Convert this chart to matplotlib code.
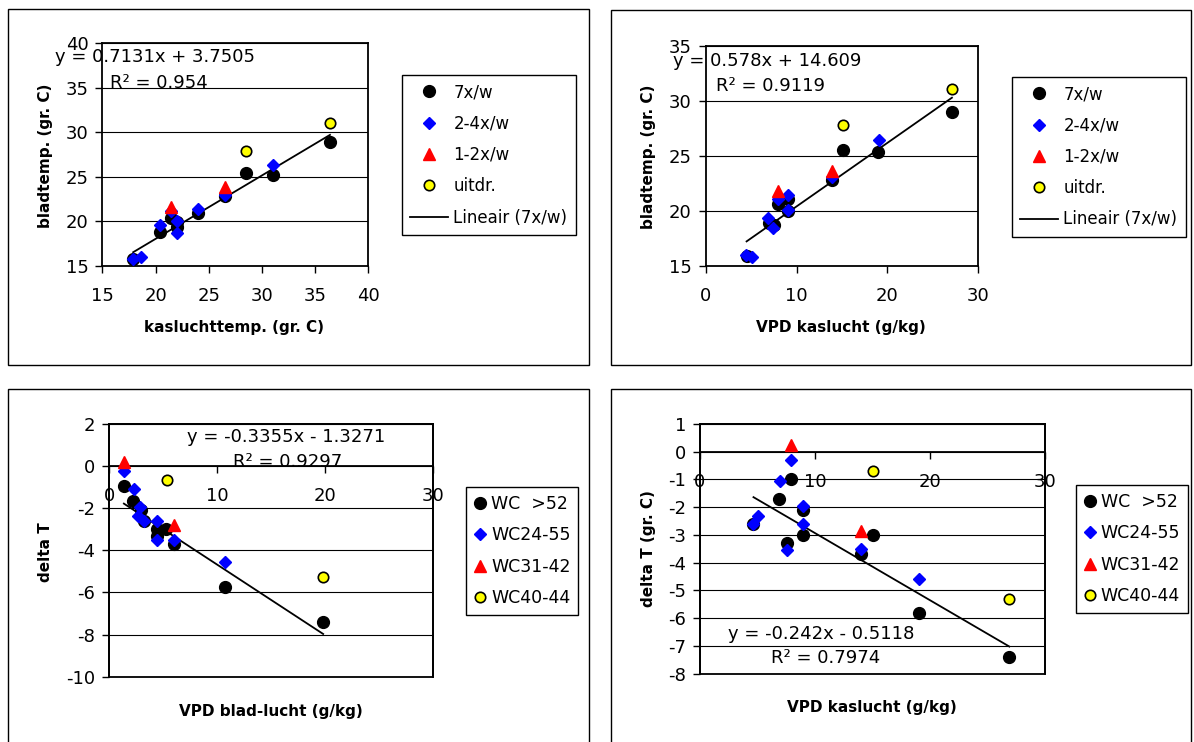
import matplotlib
matplotlib.use('Agg')
import matplotlib.pyplot as plt
from matplotlib.patches import Rectangle
import numpy as np

plt.rcParams['font.family'] = 'DejaVu Sans'
plt.rcParams['axes.unicode_minus'] = False  # plain hyphen like the reference

# ---- data ----
# panel 1: kasluchttemp vs bladtemp
p1_7x_x = [17.9, 20.4, 21.5, 22.0, 22.0, 24.0, 26.5, 28.5, 31.0, 36.4]
p1_7x_y = [15.75, 18.8, 20.4, 19.9, 19.3, 20.9, 22.8, 25.4, 25.2, 28.95]
p1_24_x = [17.9, 18.6, 20.4, 21.5, 22.0, 22.0, 24.0, 26.5, 31.0]
p1_24_y = [15.75, 15.95, 19.6, 21.1, 20.0, 18.65, 21.35, 23.0, 26.35]
p1_12_x = [21.5, 26.5]
p1_12_y = [21.65, 23.8]
p1_ud_x = [28.5, 36.4]
p1_ud_y = [27.9, 31.05]
p1_fit = (0.7131, 3.7505, 0.954)

# panel 2: VPD kaslucht vs bladtemp
p2_7x_x = [4.5, 7.0, 7.5, 8.0, 9.1, 9.1, 13.9, 15.1, 19.0, 27.1]
p2_7x_y = [15.9, 18.85, 18.7, 20.65, 21.05, 19.95, 22.8, 25.5, 25.3, 29.0]
p2_24_x = [4.4, 5.1, 6.9, 7.45, 8.0, 9.1, 9.1, 13.9, 19.1]
p2_24_y = [15.95, 15.75, 19.3, 18.45, 21.1, 21.45, 20.05, 23.05, 26.45]
p2_12_x = [8.0, 13.9]
p2_12_y = [21.75, 23.65]
p2_ud_x = [15.1, 27.1]
p2_ud_y = [27.8, 31.1]
p2_fit = (0.578, 14.609, 0.9119)

# panel 3: VPD blad-lucht vs delta T
p3_52_x = [1.35, 2.2, 2.9, 3.2, 4.4, 4.4, 5.25, 5.95, 10.7, 19.8]
p3_52_y = [-0.95, -1.65, -2.1, -2.6, -3.0, -3.3, -3.0, -3.7, -5.75, -7.4]
p3_24_x = [1.35, 2.3, 2.85, 2.7, 3.2, 4.4, 4.4, 5.95, 10.7]
p3_24_y = [-0.25, -1.1, -1.95, -2.35, -2.6, -2.6, -3.5, -3.5, -4.55]
p3_31_x = [1.35, 5.95]
p3_31_y = [0.2, -2.8]
p3_40_x = [5.3, 19.8]
p3_40_y = [-0.65, -5.25]
p3_fit = (-0.3355, -1.3271, 0.9297)

# panel 4: VPD kaslucht vs delta T
p4_52_x = [4.65, 6.9, 7.55, 7.9, 9.0, 9.0, 14.0, 15.0, 19.0, 26.9]
p4_52_y = [-2.6, -1.7, -3.3, -1.0, -2.1, -3.0, -3.7, -3.0, -5.8, -7.4]
p4_24_x = [4.65, 5.05, 6.95, 7.9, 9.0, 9.0, 7.55, 14.0, 19.0]
p4_24_y = [-2.6, -2.3, -1.05, -0.3, -1.95, -2.6, -3.55, -3.5, -4.6]
p4_31_x = [7.9, 14.0]
p4_31_y = [0.25, -2.85]
p4_40_x = [15.0, 26.9]
p4_40_y = [-0.7, -5.3]
p4_fit = (-0.242, -0.5118, 0.7974)

top_labels = ['7x/w', '2-4x/w', '1-2x/w', 'uitdr.']
bottom_labels = ['WC  >52', 'WC24-55', 'WC31-42', 'WC40-44']

# marker styles for the four series
styles = [
    dict(marker='o', color='black', mec='black', ms=8.5),
    dict(marker='D', color='blue', mec='blue', ms=5.8),
    dict(marker='^', color='red', mec='red', ms=8.5),
    dict(marker='o', color='yellow', mec='black', ms=7.5, mew=1.2),
]

W, H = 1194, 742
fig = plt.figure(figsize=(W / 100, H / 100), dpi=100)


def fx(x):
    return x / W


def fy(y):
    return 1 - y / H


def add_box(x0, y0, x1, y1):
    # outer chart-area border in pixel coords
    fig.add_artist(Rectangle((fx(x0), fy(y1)), (x1 - x0) / W, (y1 - y0) / H,
                             transform=fig.transFigure, fill=False,
                             ec='black', lw=1.0))


def eq_text(fit):
    a, b, r2 = fit
    sign = '+' if b >= 0 else '-'
    return f'y = {a:g}x {sign} {abs(b):g}', f'R² = {r2:g}'


def panel(box, series, labels, fit, xlim, ylim, xstep, ystep,
          xlabel, ylabel, xl_pos, yl_pos, eq_pos, r2_pos, leg_pos,
          trend_in_legend, zero_axis):
    x0, y0, x1, y1 = box
    ax = fig.add_axes([fx(x0), fy(y1), (x1 - x0) / W, (y1 - y0) / H])
    handles = []
    for (xs, ys), st, lab in zip(series, styles, labels):
        h, = ax.plot(xs, ys, linestyle='none', label=lab, zorder=3, **st)
        handles.append(h)

    # trend line of the first series, from the displayed equation
    a, b, r2 = fit
    tx = np.array([min(series[0][0]), max(series[0][0])])
    tl, = ax.plot(tx, a * tx + b, color='black', lw=1.3, zorder=2,
                  label='Lineair (7x/w)')
    if trend_in_legend:
        handles.append(tl)

    ax.set_xlim(*xlim)
    ax.set_ylim(*ylim)
    ax.set_xticks(np.arange(xlim[0], xlim[1] + 0.1, xstep))
    ax.set_yticks(np.arange(ylim[0], ylim[1] + 0.1, ystep))
    ax.yaxis.grid(True, color='black', lw=0.8)
    ax.set_axisbelow(True)
    ax.tick_params(labelsize=13, length=5, width=1, direction='out')
    ax.tick_params(axis='x', pad=10)
    ax.tick_params(axis='y', pad=5)
    for s in ax.spines.values():
        s.set_linewidth(1.3)

    if zero_axis:
        # x axis crosses at y = 0, plot area keeps a full frame
        ax.spines['bottom'].set_position(('data', 0))
        ax.add_patch(Rectangle((0, 0), 1, 1, transform=ax.transAxes,
                               fill=False, ec='black', lw=1.3,
                               clip_on=False, zorder=4))

    # axis titles
    fig.text(fx(xl_pos[0]), fy(xl_pos[1]), xlabel, ha='center', va='center',
             fontsize=11, fontweight='bold')
    fig.text(fx(yl_pos[0]), fy(yl_pos[1]), ylabel, ha='center', va='center',
             fontsize=11, fontweight='bold', rotation=90)

    # regression equation
    eq, rr = eq_text(fit)
    fig.text(fx(eq_pos[0]), fy(eq_pos[1]), eq, ha='left', va='center',
             fontsize=13)
    fig.text(fx(r2_pos[0]), fy(r2_pos[1]), rr, ha='left', va='center',
             fontsize=13)

    # legend
    if trend_in_legend:
        kw = dict(fontsize=12, handlelength=2.3, handletextpad=0.3,
                  borderpad=0.5, labelspacing=0.8)
    else:
        kw = dict(fontsize=12.5, handlelength=0.7, handletextpad=0.3,
                  borderpad=0.45, labelspacing=0.78)
    leg = ax.legend(handles=handles, loc='upper left',
                    bbox_to_anchor=(fx(leg_pos[0]), fy(leg_pos[1])),
                    bbox_transform=fig.transFigure, borderaxespad=0,
                    numpoints=1, fancybox=False, framealpha=1,
                    edgecolor='black', **kw)
    leg.get_frame().set_linewidth(1.0)
    return ax


# outer chart boxes
add_box(8, 9, 589, 365)
add_box(611, 10, 1191, 365)
add_box(8, 389, 589, 760)
add_box(611, 389, 1191, 760)

panel((102.3, 43.3, 368.3, 265.7),
      [(p1_7x_x, p1_7x_y), (p1_24_x, p1_24_y), (p1_12_x, p1_12_y), (p1_ud_x, p1_ud_y)],
      top_labels, p1_fit, (15, 40), (15, 40), 5, 5,
      'kasluchttemp. (gr. C)', 'bladtemp. (gr. C)',
      (234.5, 328), (46, 156), (55, 57), (110, 82.5), (401.7, 75), True, False)

panel((705.7, 45.7, 978.3, 265.7),
      [(p2_7x_x, p2_7x_y), (p2_24_x, p2_24_y), (p2_12_x, p2_12_y), (p2_ud_x, p2_ud_y)],
      top_labels, p2_fit, (0, 30), (15, 35), 10, 5,
      'VPD kaslucht (g/kg)', 'bladtemp. (gr. C)',
      (840.8, 328), (648.3, 157), (673.3, 60.5), (715.7, 86), (1011.7, 76.7), True, False)

panel((109.3, 424, 433.3, 676.7),
      [(p3_52_x, p3_52_y), (p3_24_x, p3_24_y), (p3_31_x, p3_31_y), (p3_40_x, p3_40_y)],
      bottom_labels, p3_fit, (0, 30), (-10, 2), 10, 2,
      'VPD blad-lucht (g/kg)', 'delta T',
      (271, 711.7), (46, 551.7), (186.7, 436.7), (233.3, 461.7), (466, 487), False, True)

panel((700, 424, 1045, 673.7),
      [(p4_52_x, p4_52_y), (p4_24_x, p4_24_y), (p4_31_x, p4_31_y), (p4_40_x, p4_40_y)],
      bottom_labels, p4_fit, (0, 30), (-8, 1), 10, 1,
      'VPD kaslucht (g/kg)', 'delta T (gr. C)',
      (872.3, 707.7), (648.3, 548.3), (728.3, 634), (770.7, 658.3), (1075.7, 485), False, True)

plt.savefig('out.png', dpi=100)
